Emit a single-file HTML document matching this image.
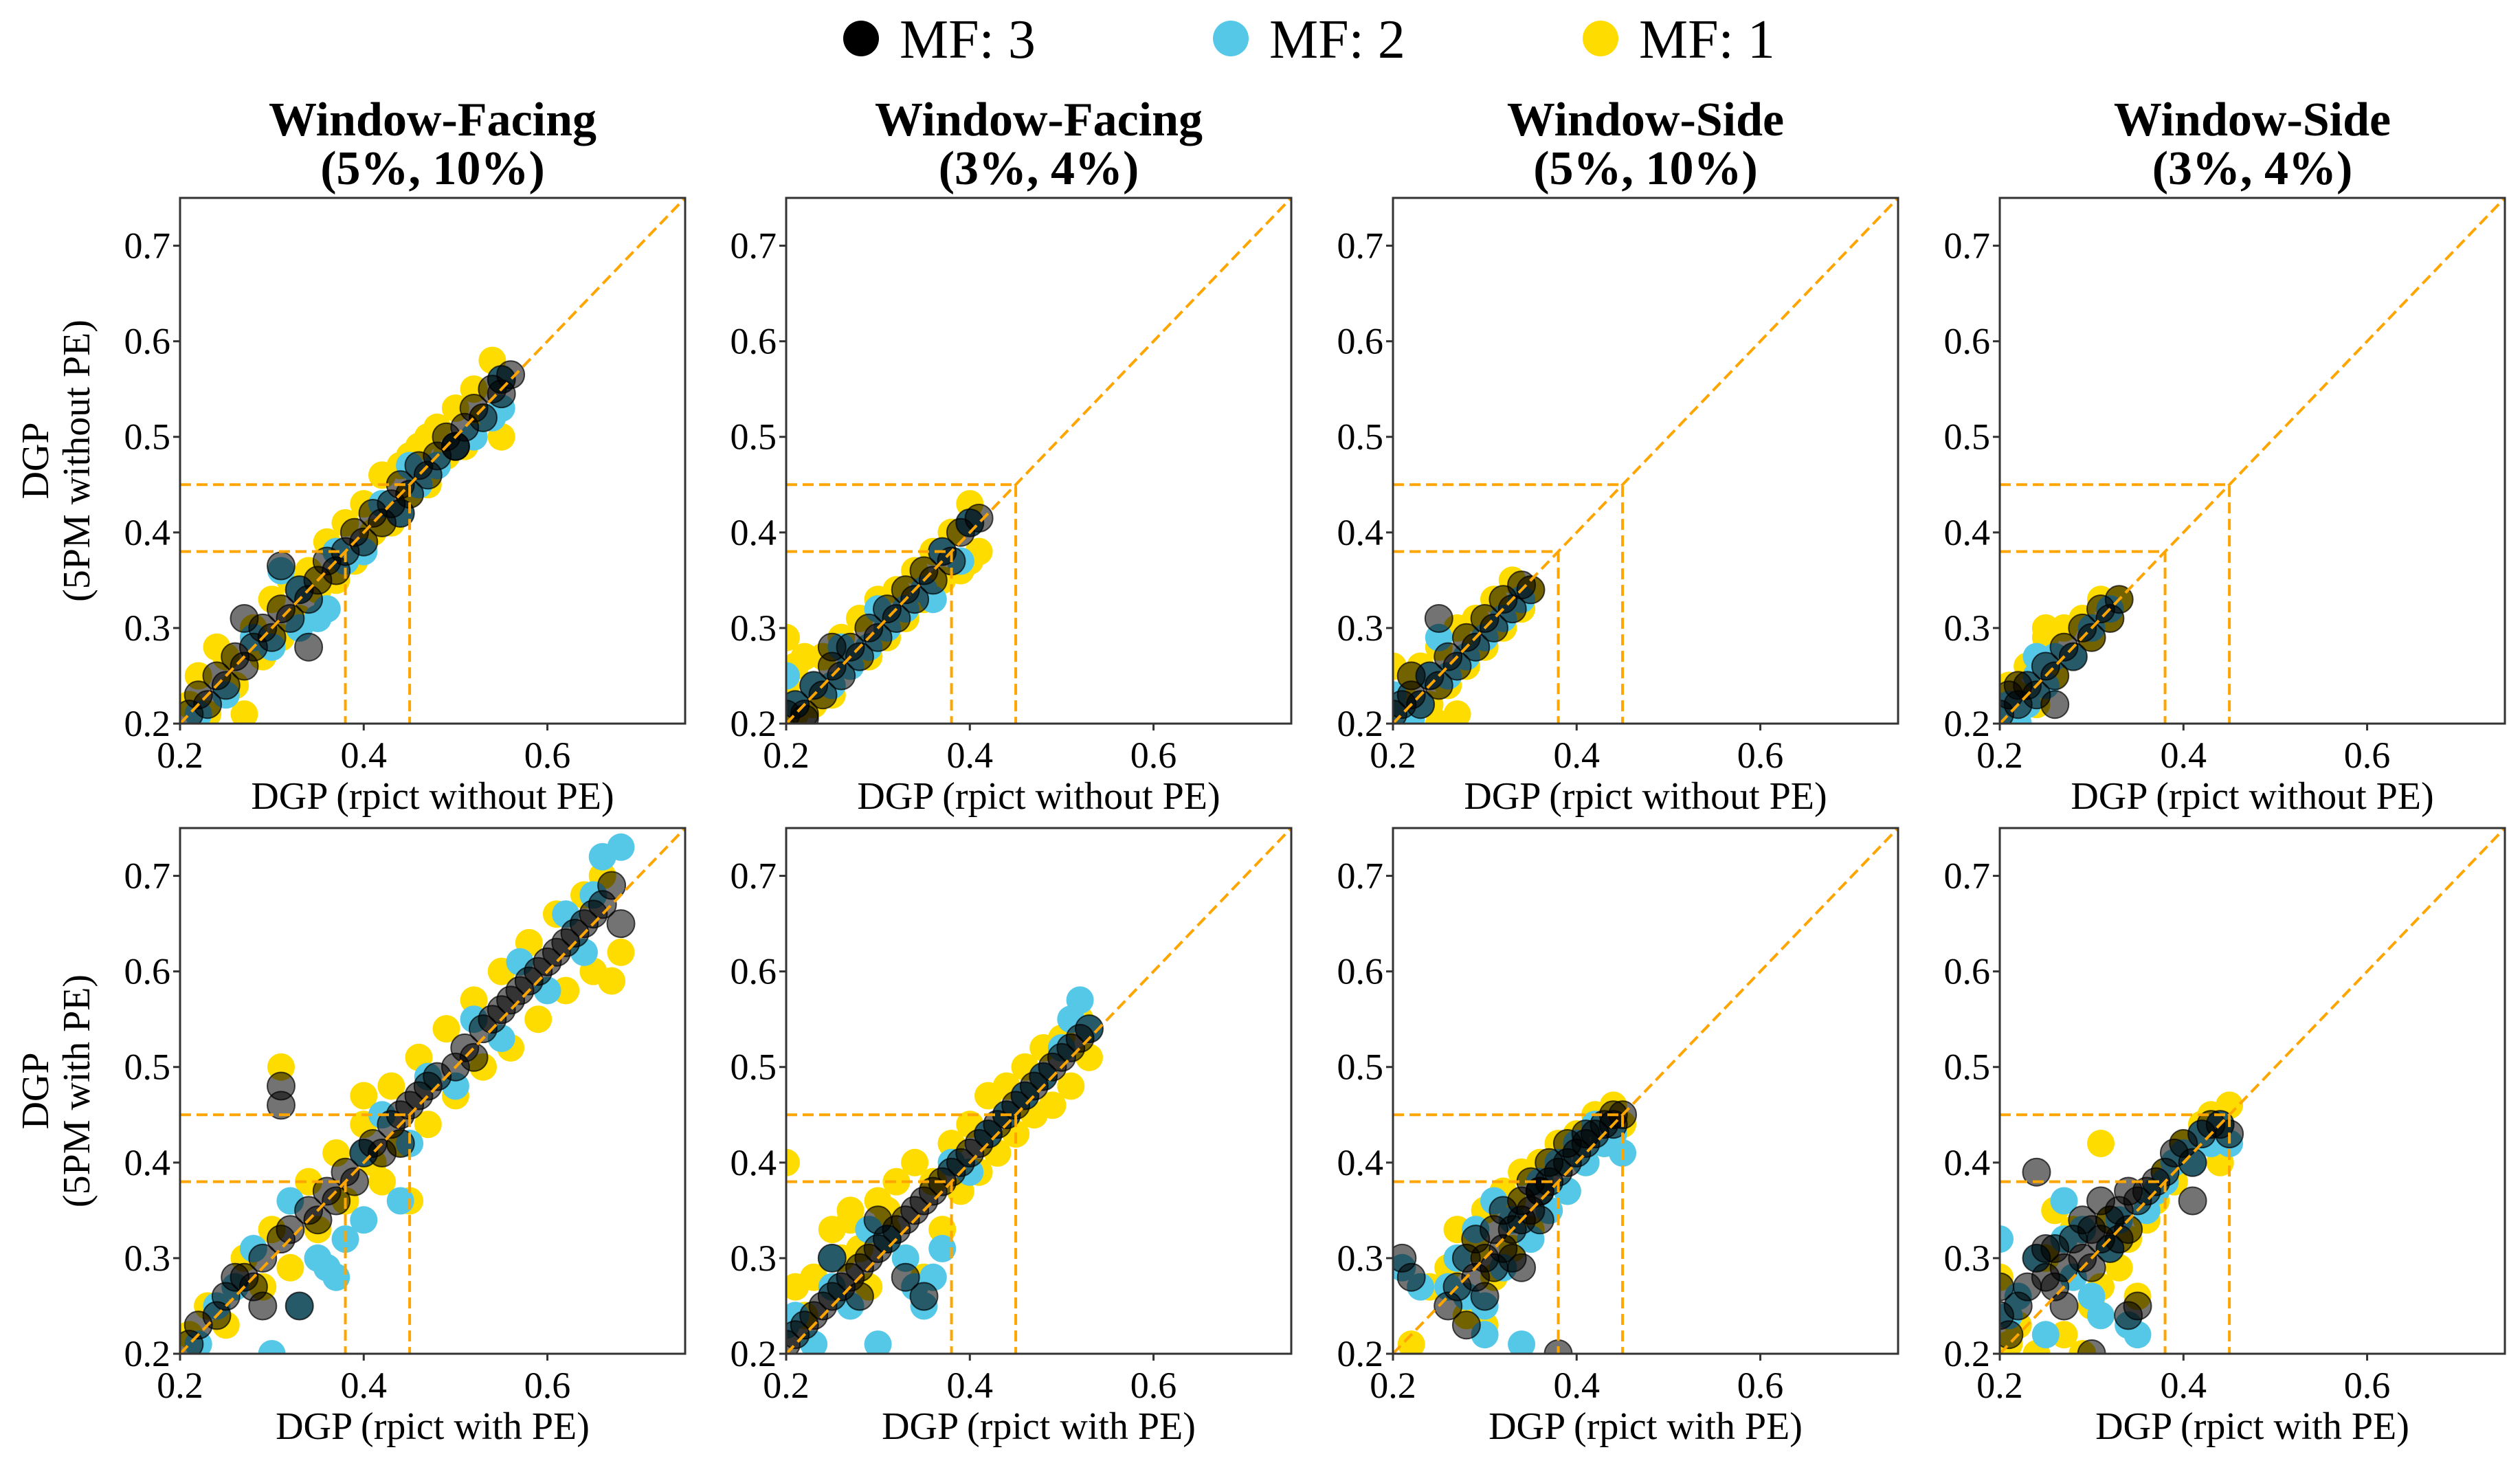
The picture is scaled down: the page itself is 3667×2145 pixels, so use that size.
<!DOCTYPE html>
<html><head><meta charset="utf-8"><style>
html,body{margin:0;padding:0;background:#fff}
svg{display:block}
text{font-family:"Liberation Serif",serif}
</style></head><body>
<svg id="chart" width="3667" height="2145" viewBox="0 0 3667 2145" xmlns="http://www.w3.org/2000/svg"></svg>
<script>
// ---- data: flat [x,y,x,y,...] arrays per panel and series ----
const xTicks = [0.2, 0.4, 0.6];
const yTicks = [0.2, 0.3, 0.4, 0.5, 0.6, 0.7];
const seriesNames = ["MF: 3", "MF: 2", "MF: 1"];
const thresholds = [0.38, 0.45];

const y1 = [.21,.22,.23,.21,.22,.25,.25,.27,.26,.24,.28,.30,.29,.27,.30,.33,.31,.29,.32,.35,.33,.31,.34,.36,.35,.34,.36,.39,.37,.35,.38,.41,.39,.37,.40,.43,.41,.40,.42,.46,.43,.42,.44,.47,.45,.44,.46,.49,.47,.45,.48,.51,.49,.48,.50,.53,.51,.49,.52,.55,.53,.52,.54,.58,.55,.50,.43,.41,.27,.21,.24,.28,.47,.50,.45,.48];
const b1 = [.22,.21,.25,.23,.28,.29,.30,.28,.31,.36,.33,.30,.35,.31,.36,.32,.38,.37,.40,.38,.42,.43,.44,.42,.46,.45,.48,.47,.50,.49,.52,.50,.54,.52,.55,.56,.37,.38,.45,.47,.55,.53,.33,.34];
const k1 = [.21,.21,.22,.23,.23,.22,.24,.25,.25,.24,.26,.27,.27,.26,.28,.28,.29,.30,.30,.29,.31,.32,.31,.365,.32,.31,.33,.34,.34,.33,.35,.35,.36,.37,.37,.36,.38,.38,.39,.40,.40,.39,.41,.42,.42,.41,.43,.43,.44,.45,.45,.44,.46,.47,.47,.46,.48,.48,.49,.50,.50,.49,.51,.51,.52,.53,.53,.52,.54,.55,.55,.56,.56,.565,.34,.28,.27,.31,.50,.49,.55,.545,.44,.42];

const y2 = [.20,.29,.21,.26,.20,.24,.22,.27,.23,.22,.24,.27,.25,.23,.26,.29,.27,.26,.28,.31,.29,.27,.30,.33,.31,.29,.32,.34,.33,.31,.34,.36,.35,.33,.36,.38,.37,.35,.38,.40,.39,.36,.40,.43,.41,.38,.40,.37,.21,.21];
const b2 = [.20,.25,.21,.22,.23,.24,.25,.24,.27,.26,.29,.28,.31,.30,.33,.32,.35,.34,.36,.33,.37,.38,.39,.37,.40,.41,.30,.32,.26,.28];
const k2 = [.20,.21,.21,.22,.22,.21,.23,.24,.24,.23,.25,.26,.26,.25,.27,.28,.28,.27,.29,.30,.30,.29,.31,.32,.32,.31,.33,.34,.34,.33,.35,.36,.36,.35,.37,.38,.38,.37,.39,.40,.40,.41,.41,.415,.22,.205,.25,.28];

const y3 = [.20,.26,.21,.23,.22,.25,.23,.26,.24,.22,.25,.28,.26,.24,.27,.30,.28,.26,.29,.31,.30,.28,.31,.33,.32,.30,.33,.35,.34,.32,.35,.34,.25,.20,.27,.21,.29,.28];
const b3 = [.20,.23,.21,.21,.22,.205,.23,.22,.24,.25,.26,.25,.28,.27,.30,.29,.32,.31,.34,.33,.25,.29];
const k3 = [.20,.21,.21,.22,.22,.23,.23,.22,.24,.25,.25,.24,.26,.27,.27,.26,.28,.29,.29,.28,.30,.31,.31,.30,.32,.33,.33,.32,.34,.345,.35,.34,.25,.31,.22,.25];

const y4 = [.20,.22,.21,.24,.22,.23,.23,.26,.24,.22,.25,.29,.26,.25,.27,.30,.28,.27,.29,.31,.30,.29,.31,.33,.32,.31,.33,.33,.25,.30];
const b4 = [.20,.21,.21,.22,.22,.20,.23,.22,.24,.25,.25,.24,.26,.27,.28,.27,.30,.30,.32,.32,.24,.27];
const k4 = [.20,.21,.21,.23,.22,.22,.23,.24,.24,.23,.25,.26,.26,.25,.27,.28,.28,.27,.29,.30,.30,.29,.31,.32,.32,.31,.33,.33,.22,.24,.26,.22];

const y5 = [.21,.22,.23,.25,.25,.23,.27,.30,.29,.27,.30,.33,.31,.50,.32,.29,.34,.38,.35,.33,.37,.41,.38,.36,.40,.44,.41,.40,.43,.48,.44,.42,.46,.51,.47,.44,.49,.54,.50,.47,.52,.57,.53,.50,.55,.60,.56,.52,.58,.63,.59,.55,.61,.66,.62,.58,.64,.68,.65,.60,.67,.59,.68,.62,.66,.70,.45,.36,.42,.38,.40,.47];
const b5 = [.22,.21,.24,.25,.26,.27,.28,.31,.30,.20,.32,.36,.33,.25,.35,.30,.37,.28,.38,.32,.40,.34,.40,.41,.42,.45,.45,.42,.47,.49,.50,.48,.52,.55,.55,.53,.57,.61,.60,.58,.62,.66,.64,.62,.66,.72,.68,.73,.65,.68,.44,.36,.36,.29];
const k5 = [.21,.21,.22,.23,.24,.24,.25,.26,.27,.28,.28,.27,.29,.30,.31,.32,.31,.48,.31,.46,.32,.33,.33,.25,.34,.35,.35,.34,.36,.37,.37,.36,.38,.39,.39,.38,.40,.41,.41,.42,.42,.41,.43,.44,.44,.45,.45,.46,.46,.47,.47,.48,.48,.49,.50,.50,.51,.52,.52,.51,.53,.54,.54,.55,.55,.56,.56,.57,.57,.58,.58,.59,.59,.60,.60,.61,.61,.62,.62,.63,.63,.64,.64,.65,.65,.66,.66,.67,.68,.65,.67,.69,.29,.25,.26,.28,.44,.42];

const y6 = [.20,.40,.21,.27,.22,.24,.23,.28,.25,.33,.26,.30,.27,.35,.28,.31,.29,.27,.30,.36,.31,.33,.32,.38,.33,.30,.34,.40,.35,.28,.36,.38,.37,.33,.38,.42,.39,.37,.40,.44,.41,.39,.42,.47,.43,.41,.44,.48,.45,.43,.46,.50,.47,.45,.48,.52,.49,.46,.50,.53,.51,.48,.52,.55,.53,.51,.27,.34,.31,.35];
const b6 = [.20,.23,.21,.24,.23,.21,.25,.30,.27,.25,.29,.33,.30,.21,.31,.32,.33,.30,.34,.27,.35,.25,.36,.28,.37,.31,.38,.40,.40,.39,.42,.43,.44,.45,.46,.47,.48,.49,.50,.52,.51,.55,.52,.57,.53,.54,.25,.27];
const k6 = [.20,.21,.21,.22,.22,.23,.23,.24,.24,.25,.25,.26,.26,.27,.27,.28,.28,.29,.29,.30,.30,.31,.31,.32,.32,.33,.33,.34,.34,.35,.35,.36,.36,.37,.37,.38,.38,.39,.39,.40,.40,.41,.41,.42,.42,.43,.43,.44,.44,.45,.45,.46,.46,.47,.47,.48,.48,.49,.49,.50,.50,.51,.51,.52,.52,.53,.53,.54,.25,.30,.28,.26,.33,.28,.35,.26,.30,.34];

const y7 = [.22,.21,.24,.27,.26,.29,.27,.33,.28,.24,.29,.31,.30,.35,.31,.28,.32,.37,.33,.31,.34,.39,.35,.33,.36,.40,.37,.35,.38,.42,.39,.37,.40,.43,.41,.40,.42,.45,.43,.42,.44,.46,.45,.44,.30,.23,.33,.36];
const b7 = [.21,.29,.23,.27,.26,.27,.27,.30,.28,.26,.29,.33,.30,.25,.31,.36,.32,.29,.33,.34,.34,.21,.35,.32,.36,.38,.37,.35,.38,.40,.39,.37,.40,.42,.41,.40,.42,.44,.43,.42,.44,.43,.45,.41,.30,.22];
const k7 = [.21,.30,.22,.28,.26,.25,.27,.27,.28,.30,.28,.23,.29,.28,.29,.32,.30,.30,.30,.26,.31,.33,.31,.29,.32,.31,.32,.35,.33,.33,.33,.30,.34,.36,.34,.34,.35,.35,.35,.38,.36,.37,.36,.34,.37,.38,.37,.40,.38,.39,.39,.40,.39,.42,.40,.41,.41,.42,.41,.43,.42,.43,.43,.44,.44,.44,.44,.45,.45,.45,.38,.20,.34,.29,.36,.37];

const y8 = [.20,.28,.21,.21,.22,.23,.24,.20,.25,.30,.26,.35,.27,.22,.28,.33,.29,.20,.30,.25,.31,.27,.32,.34,.33,.29,.34,.32,.35,.26,.36,.34,.37,.36,.38,.39,.39,.38,.40,.42,.41,.40,.42,.44,.43,.45,.44,.40,.45,.46,.31,.42];
const b8 = [.20,.32,.21,.24,.22,.26,.24,.30,.25,.22,.27,.32,.28,.28,.29,.33,.30,.26,.31,.24,.32,.31,.33,.34,.34,.23,.35,.22,.36,.35,.37,.37,.38,.38,.39,.40,.40,.41,.41,.40,.42,.43,.43,.42,.44,.44,.45,.42,.27,.36];
const k8 = [.20,.27,.20,.24,.21,.22,.22,.25,.23,.27,.24,.30,.25,.31,.25,.28,.26,.31,.26,.27,.27,.29,.27,.25,.28,.32,.29,.34,.29,.30,.30,.33,.30,.29,.31,.36,.31,.32,.32,.34,.32,.31,.33,.35,.33,.32,.34,.33,.34,.37,.34,.24,.35,.36,.35,.25,.36,.37,.37,.38,.38,.39,.39,.41,.40,.42,.41,.40,.42,.43,.43,.44,.44,.44,.45,.43,.41,.36,.30,.20,.24,.39];

const panelData = [[k1,b1,y1],[k2,b2,y2],[k3,b3,y3],[k4,b4,y4],[k5,b5,y5],[k6,b6,y6],[k7,b7,y7],[k8,b8,y8]];

// ---- layout ----
const NS = "http://www.w3.org/2000/svg";
const svg = document.getElementById("chart");
const colX = [262, 1144, 2027, 2910];
const rowY = [288, 1205];
const PW = 735, PH = 765;
const DMIN = 0.2, DMAX = 0.75;
const titles1 = ["Window-Facing","Window-Facing","Window-Side","Window-Side"];
const titles2 = ["(5%, 10%)","(3%, 4%)","(5%, 10%)","(3%, 4%)"];
const colors = ["#000000","#55c8e8","#ffdc00"];
const R = 20;

function el(tag, attrs, parent){
  const e = document.createElementNS(NS, tag);
  for (const k in attrs) e.setAttribute(k, attrs[k]);
  (parent||svg).appendChild(e);
  return e;
}

// legend
const legendX = [1253, 1791, 2329];
for (let i=0;i<3;i++){
  const c = el("circle",{cx:legendX[i],cy:56,r:26,fill:colors[i]});
  
  
  const t = el("text",{x:legendX[i]+56,y:84,"font-size":80});
  t.textContent = seriesNames[i];
  
  
}

let clipId = 0;
for (let p=0;p<8;p++){
  const row = Math.floor(p/4), col = p%4;
  const X0 = colX[col], Y0 = rowY[row];
  const sx = v => X0 + (v-DMIN)/(DMAX-DMIN)*PW;
  const sy = v => Y0 + PH - (v-DMIN)/(DMAX-DMIN)*PH;
  const g = el("g",{});
  
  

  if (row===0){
    const t1 = el("text",{x:X0+PW/2,y:197,"font-size":70,"font-weight":"bold","text-anchor":"middle"},g);
    t1.textContent = titles1[col];
    
    
    const t2 = el("text",{x:X0+PW/2,y:268,"font-size":70,"font-weight":"bold","text-anchor":"middle"},g);
    t2.textContent = titles2[col];
    
    
  }

  const cid = "clip"+(clipId++);
  const cp = el("clipPath",{id:cid},g);
  el("rect",{x:X0,y:Y0,width:PW,height:PH},cp);

  const pts = el("g",{"clip-path":"url(#"+cid+")"},g);
  for (let s=2;s>=0;s--){
    const arr = panelData[p][s];
    for (let i=0;i+1<arr.length;i+=2){
      const attrs = {cx:sx(arr[i]).toFixed(1),cy:sy(arr[i+1]).toFixed(1),r:R,fill:colors[s]};
      if (s===0){ attrs["fill-opacity"]=0.55; attrs.stroke="#000"; attrs["stroke-opacity"]=0.7; attrs["stroke-width"]=2; }
      const c = el("circle",attrs,pts);
      
      
    }
  }
  // reference lines
  const dash = {stroke:"#ffa500","stroke-width":4,"stroke-dasharray":"16,8",fill:"none"};
  const d = el("line",Object.assign({x1:sx(DMIN),y1:sy(DMIN),x2:sx(DMAX),y2:sy(DMAX)},dash),pts);
  
  
  for (const th of thresholds){
    const h = el("polyline",Object.assign({points:`${sx(DMIN)},${sy(th)} ${sx(th)},${sy(th)} ${sx(th)},${sy(DMIN)}`},dash),pts);
    
    
  }

  const frame = el("rect",{x:X0,y:Y0,width:PW,height:PH,fill:"none",stroke:"#333","stroke-width":3},g);
  
  

  for (const v of xTicks){
    el("line",{x1:sx(v),y1:Y0+PH,x2:sx(v),y2:Y0+PH+10,stroke:"#333","stroke-width":3},g);
    const t = el("text",{x:sx(v),y:Y0+PH+64,"font-size":54,"text-anchor":"middle"},g);
    t.textContent = v.toFixed(1);
    
    
  }
  for (const v of yTicks){
    el("line",{x1:X0-10,y1:sy(v),x2:X0,y2:sy(v),stroke:"#333","stroke-width":3},g);
    const t = el("text",{x:X0-14,y:sy(v)+18,"font-size":54,"text-anchor":"end"},g);
    t.textContent = v.toFixed(1);
    
    
  }
  const xl = el("text",{x:X0+PW/2,y:Y0+PH+124,"font-size":56,"text-anchor":"middle"},g);
  xl.textContent = row===0 ? "DGP (rpict without PE)" : "DGP (rpict with PE)";
  
  

  if (col===0){
    const cy = Y0+PH/2;
    const a = el("text",{transform:`translate(70,${cy}) rotate(-90)`,"font-size":56,"text-anchor":"middle"},g);
    a.textContent = "DGP";
    
    
    const b = el("text",{transform:`translate(130,${cy}) rotate(-90)`,"font-size":56,"text-anchor":"middle"},g);
    b.textContent = row===0 ? "(5PM without PE)" : "(5PM with PE)";
    
    
  }
}
</script>
</body></html>
